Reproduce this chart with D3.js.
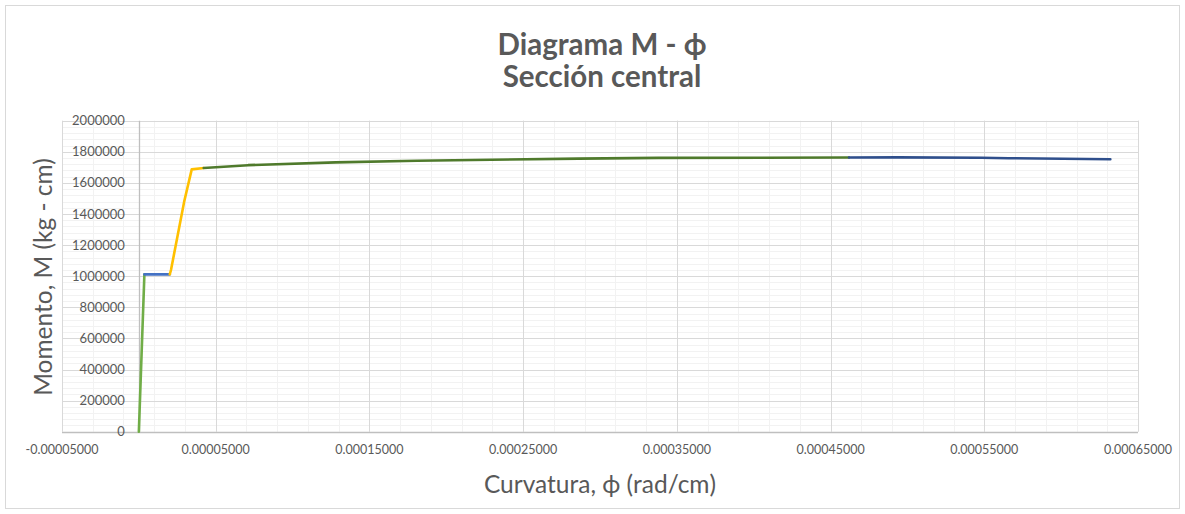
<!DOCTYPE html>
<html>
<head>
<meta charset="utf-8">
<script src="https://cdn.jsdelivr.net/npm/d3@7"></script>
<style>
  html, body { margin: 0; padding: 0; background: #fff; }
  svg { display: block; font-family: Lato, "Open Sans", sans-serif; }
</style>
</head>
<body>
<svg id="chart" width="1185" height="514"></svg>
<script>
// Moment–curvature diagram, central section: five consecutive branches
const phiElastic   = [0, 0.0000036];
const momElastic   = [0, 1012000];
const phiCracking  = [0.0000036, 0.0000201];
const momCracking  = [1012000, 1012000];
const phiCracked   = [0.0000201, 0.0000209, 0.0000295, 0.0000344, 0.0000422];
const momCracked   = [1012000, 1040000, 1480000, 1687000, 1696000];
const phiYield     = [0.0000422, 0.000071, 0.000128, 0.000181, 0.000217, 0.000286, 0.000338, 0.000462];
const momYield     = [1696000, 1714000, 1732000, 1742000, 1747000, 1756000, 1761000, 1763000];
const phiUltimate  = [0.000462, 0.000494, 0.000548, 0.000566, 0.000632];
const momUltimate  = [1763000, 1764000, 1762000, 1759000, 1752000];

const xTicks = [-0.00005, 0.00005, 0.00015, 0.00025, 0.00035, 0.00045, 0.00055, 0.00065];
const yTicks = [0, 200000, 400000, 600000, 800000, 1000000, 1200000, 1400000, 1600000, 1800000, 2000000];
const titleLines = ["Diagrama M - \u03D5", "Secci\u00F3n central"];
const xTitle = "Curvatura, \u03D5 (rad/cm)";
const yTitle = "Momento, M (kg - cm)";

const series = [
  { phi: phiElastic,  mom: momElastic,  color: "#70ad47" },
  { phi: phiCracking, mom: momCracking, color: "#4472c4" },
  { phi: phiCracked,  mom: momCracked,  color: "#ffc000" },
  { phi: phiYield,    mom: momYield,    color: "#4f7a2c" },
  { phi: phiUltimate, mom: momUltimate, color: "#2f4f8c" }
];

const svg = d3.select("#chart");
const W = 1185, H = 514;
const plot = { left: 62, right: 1138, top: 120.7, bottom: 431.7 };

svg.append("rect").attr("x", 0).attr("y", 0).attr("width", W).attr("height", H).attr("fill", "#fff");
svg.append("rect").attr("x", 5.5).attr("y", 5.5).attr("width", 1174).attr("height", 503)
  .attr("fill", "none").attr("stroke", "#d9d9d9").attr("stroke-width", 1);

const x = d3.scaleLinear().domain([-0.00005, 0.00065]).range([plot.left, plot.right]);
const y = d3.scaleLinear().domain([0, 2000000]).range([plot.bottom, plot.top]);

// minor gridlines
const xMinor = d3.range(-0.00005, 0.00065 + 1e-12, 0.00002).filter(v => v > -0.00005 + 1e-12);
const yMinor = d3.range(0, 2000000 + 1, 40000);
const grid = svg.append("g");
grid.selectAll(".ymin").data(yMinor).join("line")
  .attr("x1", plot.left).attr("x2", plot.right)
  .attr("y1", d => Math.round(y(d)) + 0.5).attr("y2", d => Math.round(y(d)) + 0.5)
  .attr("stroke", "#f2f2f2").attr("stroke-width", 1);
grid.selectAll(".xmin").data(xMinor).join("line")
  .attr("x1", d => Math.round(x(d)) + 0.5).attr("x2", d => Math.round(x(d)) + 0.5)
  .attr("y1", plot.top).attr("y2", plot.bottom)
  .attr("stroke", "#f2f2f2").attr("stroke-width", 1);

// major gridlines
grid.selectAll(".ymaj").data(yTicks).join("line")
  .attr("x1", plot.left).attr("x2", plot.right)
  .attr("y1", d => Math.round(y(d)) + 0.5).attr("y2", d => Math.round(y(d)) + 0.5)
  .attr("stroke", "#d9d9d9").attr("stroke-width", 1);
grid.selectAll(".xmaj").data(xTicks).join("line")
  .attr("x1", d => Math.round(x(d)) + 0.5).attr("x2", d => Math.round(x(d)) + 0.5)
  .attr("y1", plot.top).attr("y2", plot.bottom)
  .attr("stroke", "#d9d9d9").attr("stroke-width", 1);

// axis lines: horizontal at M = 0, vertical at phi = 0
svg.append("line").attr("x1", plot.left).attr("x2", plot.right)
  .attr("y1", Math.round(y(0)) + 0.5).attr("y2", Math.round(y(0)) + 0.5)
  .attr("stroke", "#bfbfbf").attr("stroke-width", 1.3);
svg.append("line").attr("x1", Math.round(x(0)) + 0.5).attr("x2", Math.round(x(0)) + 0.5)
  .attr("y1", plot.top).attr("y2", plot.bottom)
  .attr("stroke", "#bfbfbf").attr("stroke-width", 1.3);

// tick labels
const labelColor = "#595959";
const fmtX = d3.formatLocale({ decimal: ".", thousands: ",", grouping: [3], currency: ["", ""], minus: "-" }).format(".8f");
svg.append("g").selectAll("text").data(yTicks).join("text")
  .attr("x", x(0) - 14).attr("y", d => y(d))
  .attr("dy", "0.35em").attr("text-anchor", "end")
  .attr("font-size", 13).attr("fill", labelColor)
  .text(d => d3.format("d")(d));
svg.append("g").selectAll("text").data(xTicks).join("text")
  .attr("x", d => x(d)).attr("y", 450)
  .attr("dy", "0.35em").attr("text-anchor", "middle")
  .attr("font-size", 12.5).attr("fill", labelColor)
  .text(d => fmtX(d));

// curve branches
const line = d3.line().x(d => x(d[0])).y(d => y(d[1]));
svg.append("g").selectAll("path").data(series).join("path")
  .attr("d", s => line(d3.zip(s.phi, s.mom)))
  .attr("fill", "none").attr("stroke", s => s.color)
  .attr("stroke-width", 2.6).attr("stroke-linejoin", "round").attr("stroke-linecap", "round");

// titles
svg.append("g").selectAll("text").data(titleLines).join("text")
  .attr("x", 602).attr("y", (d, i) => 55 + i * 32)
  .attr("text-anchor", "middle").attr("font-size", 29.5).attr("font-weight", 700)
  .attr("fill", labelColor).text(d => d);

svg.append("text").attr("x", 600).attr("y", 493)
  .attr("text-anchor", "middle").attr("font-size", 24.5).attr("fill", labelColor)
  .text(xTitle);

svg.append("text").attr("transform", "translate(52,277) rotate(-90)")
  .attr("text-anchor", "middle").attr("font-size", 24.5).attr("fill", labelColor)
  .text(yTitle);
</script>
</body>
</html>
